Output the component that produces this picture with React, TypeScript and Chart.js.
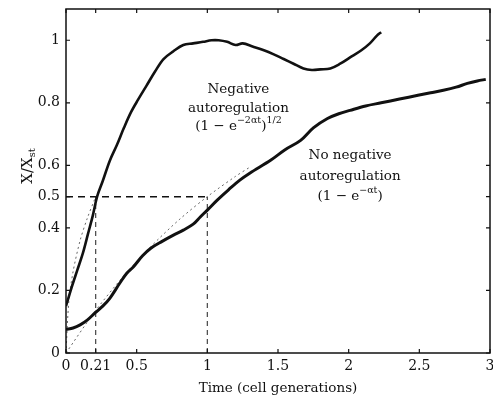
import React, { useEffect, useRef } from "react";
import { Chart, registerables } from "chart.js";

Chart.register(...registerables);

// ---- axis ticks ----
const xTickValues = [0, 0.21, 0.5, 1, 1.5, 2, 2.5, 3];
const xTickLabels = ["0", "0.21", "0.5", "1", "1.5", "2", "2.5", "3"];
const yTickValues = [0, 0.2, 0.4, 0.5, 0.6, 0.8, 1];
const yTickLabels = ["0", "0.2", "0.4", "0.5", "0.6", "0.8", "1"];

// ---- measured curve: negative autoregulation ----
const negTime = [0, 0.04, 0.08, 0.12, 0.155, 0.19, 0.22, 0.26, 0.31, 0.36, 0.41, 0.46, 0.51, 0.57, 0.63, 0.69, 0.76, 0.83, 0.9, 0.97, 1.03, 1.08, 1.14, 1.2, 1.25, 1.32, 1.4, 1.47, 1.54, 1.61, 1.68, 1.74, 1.8, 1.87, 1.94, 2.01, 2.09, 2.15, 2.2, 2.23];
const negValue = [0.15, 0.21, 0.265, 0.32, 0.38, 0.44, 0.5, 0.55, 0.615, 0.665, 0.72, 0.77, 0.81, 0.855, 0.9, 0.94, 0.965, 0.985, 0.99, 0.995, 1.0, 1.0, 0.995, 0.985, 0.99, 0.98, 0.968, 0.955, 0.94, 0.925, 0.91, 0.905, 0.907, 0.91, 0.925, 0.945, 0.968, 0.99, 1.015, 1.026];

// ---- measured curve: no negative autoregulation ----
const noNegTime = [0, 0.05, 0.1, 0.15, 0.205, 0.26, 0.31, 0.38, 0.43, 0.476, 0.54, 0.6, 0.68, 0.76, 0.83, 0.9, 0.95, 1.0, 1.07, 1.15, 1.23, 1.3, 1.45, 1.55, 1.66, 1.75, 1.85, 1.93, 2.01, 2.12, 2.23, 2.36, 2.49, 2.58, 2.67, 2.76, 2.84, 2.91, 2.97];
const noNegValue = [0.075, 0.08, 0.09, 0.105, 0.128, 0.15, 0.175, 0.223, 0.255, 0.275, 0.31, 0.335, 0.357, 0.377, 0.393, 0.412, 0.435, 0.457, 0.489, 0.522, 0.553, 0.575, 0.617, 0.65, 0.68, 0.72, 0.75, 0.765, 0.776, 0.79, 0.8, 0.812, 0.824, 0.832, 0.84, 0.85, 0.862, 0.87, 0.875];

// ---- theoretical (dotted) curves ----
const negTheoryTime = [0, 0.02, 0.05, 0.1, 0.15, 0.21];
const negTheoryValue = [0, 0.165, 0.26, 0.36, 0.43, 0.5];
const noNegTheoryTime = [0, 0.2, 0.4, 0.6, 0.8, 1.0, 1.2, 1.3];
const noNegTheoryValue = [0, 0.13, 0.242, 0.34, 0.426, 0.5, 0.565, 0.594];

// ---- response-time guides ----
const halfLevel = 0.5;
const halfTimes = [0.21, 1];

// ---- texts ----
const xTitle = "Time (cell generations)";
const yTitleMain = "X/X";
const yTitleSub = "st";
const negLabelLines = ["Negative", "autoregulation"];
const negFormula = [
  { t: "(1 \u2212 e", sup: false },
  { t: "\u22122\u03b1t", sup: true },
  { t: ")", sup: false },
  { t: "1/2", sup: true },
];
const noNegLabelLines = ["No negative", "autoregulation"];
const noNegFormula = [
  { t: "(1 \u2212 e", sup: false },
  { t: "\u2212\u03b1t", sup: true },
  { t: ")", sup: false },
];
const negLabelAt = { x: 1.22, y: 0.843 };
const noNegLabelAt = { x: 2.01, y: 0.63 };

const FONT = "'DejaVu Serif', serif";

const pts = (xs: number[], ys: number[]) => xs.map((x, i) => ({ x, y: ys[i] }));

const decorPlugin = {
  id: "decor",
  afterDatasetsDraw(chart: any) {
    const ctx = chart.ctx as CanvasRenderingContext2D;
    const { left, right, top, bottom } = chart.chartArea;
    const xs = chart.scales.x;
    const ys = chart.scales.y;
    ctx.save();
    // frame
    ctx.strokeStyle = "#111";
    ctx.lineWidth = 1.5;
    ctx.strokeRect(left, top, right - left, bottom - top);
    // inward ticks
    ctx.lineWidth = 1.2;
    ctx.beginPath();
    xTickValues.forEach((v) => {
      const px = xs.getPixelForValue(v);
      ctx.moveTo(px, bottom);
      ctx.lineTo(px, bottom - 4);
      ctx.moveTo(px, top);
      ctx.lineTo(px, top + 4);
    });
    yTickValues.forEach((v) => {
      const py = ys.getPixelForValue(v);
      ctx.moveTo(left, py);
      ctx.lineTo(left + 4, py);
      ctx.moveTo(right, py);
      ctx.lineTo(right - 4, py);
    });
    ctx.stroke();

    ctx.fillStyle = "#111";
    ctx.textBaseline = "middle";
    ctx.textAlign = "center";

    const drawLabel = (at: { x: number; y: number }, lines: string[], formula: { t: string; sup: boolean }[], gap: number) => {
      const cx = xs.getPixelForValue(at.x);
      const cy = ys.getPixelForValue(at.y);
      ctx.font = `13.5px ${FONT}`;
      ctx.textAlign = "center";
      lines.forEach((l, i) => ctx.fillText(l, cx, cy + i * gap));
      const fy = cy + lines.length * gap - 1;
      const widths = formula.map((s) => {
        ctx.font = s.sup ? `9.5px ${FONT}` : `13.5px ${FONT}`;
        return ctx.measureText(s.t).width;
      });
      const total = widths.reduce((a, b) => a + b, 0);
      let x = cx - total / 2;
      ctx.textAlign = "left";
      formula.forEach((s, i) => {
        ctx.font = s.sup ? `9.5px ${FONT}` : `13.5px ${FONT}`;
        ctx.fillText(s.t, x, s.sup ? fy - 6 : fy);
        x += widths[i];
      });
    };
    drawLabel(negLabelAt, negLabelLines, negFormula, 19);
    drawLabel(noNegLabelAt, noNegLabelLines, noNegFormula, 21);

    // x title
    ctx.textAlign = "center";
    ctx.font = `13.5px ${FONT}`;
    ctx.fillText(xTitle, (left + right) / 2, 388);

    // y title (rotated, with subscript)
    ctx.translate(32, 166);
    ctx.rotate(-Math.PI / 2);
    ctx.textBaseline = "alphabetic";
    ctx.font = `15px ${FONT}`;
    const wMain = ctx.measureText(yTitleMain).width;
    ctx.font = `10px ${FONT}`;
    const wSub = ctx.measureText(yTitleSub).width;
    const start = -(wMain + wSub) / 2;
    ctx.font = `15px ${FONT}`;
    ctx.textAlign = "left";
    ctx.fillText(yTitleMain, start, 0);
    ctx.font = `10px ${FONT}`;
    ctx.fillText(yTitleSub, start + wMain, 3);
    ctx.restore();
  },
};

export default function App() {
  const ref = useRef<HTMLCanvasElement | null>(null);
  useEffect(() => {
    document.body.style.margin = "0";
    if (!ref.current) return;
    const chart = new Chart(ref.current, {
      type: "line",
      data: {
        datasets: [
          {
            label: "Negative autoregulation",
            data: pts(negTime, negValue),
            borderColor: "#111",
            borderWidth: 2.6,
            pointRadius: 0,
            tension: 0.35,
            fill: false,
          },
          {
            label: "No negative autoregulation",
            data: pts(noNegTime, noNegValue),
            borderColor: "#111",
            borderWidth: 3,
            pointRadius: 0,
            tension: 0.35,
            fill: false,
          },
          {
            label: "Theory, negative autoregulation",
            data: pts(negTheoryTime, negTheoryValue),
            borderColor: "#666",
            borderWidth: 1,
            borderDash: [2, 3],
            pointRadius: 0,
            tension: 0.3,
          },
          {
            label: "Theory, no negative autoregulation",
            data: pts(noNegTheoryTime, noNegTheoryValue),
            borderColor: "#666",
            borderWidth: 1,
            borderDash: [2, 3],
            pointRadius: 0,
            tension: 0.3,
          },
          {
            label: "Half level",
            data: [
              { x: 0, y: halfLevel },
              { x: halfTimes[1], y: halfLevel },
            ],
            borderColor: "#111",
            borderWidth: 1.5,
            borderDash: [7, 5],
            pointRadius: 0,
            tension: 0,
          },
          ...halfTimes.map((t) => ({
            label: `t = ${t}`,
            data: [
              { x: t, y: 0 },
              { x: t, y: halfLevel },
            ],
            borderColor: "#444",
            borderWidth: 1.2,
            borderDash: [5, 4],
            pointRadius: 0,
            tension: 0,
          })),
        ],
      },
      options: {
        animation: false,
        responsive: false,
        maintainAspectRatio: false,
        layout: { padding: { top: 9, right: 3, left: 0, bottom: 0 } },
        plugins: {
          legend: { display: false },
          tooltip: { enabled: false },
          title: { display: false },
        },
        scales: {
          x: {
            type: "linear",
            min: 0,
            max: 3,
            grid: { display: false, drawTicks: false },
            border: { display: false },
            afterBuildTicks: (s: any) => {
              s.ticks = xTickValues.map((v) => ({ value: v }));
            },
            afterFit: (s: any) => {
              s.height = 49;
              s.paddingLeft = 0;
              s.paddingRight = 0;
            },
            ticks: {
              autoSkip: false,
              maxRotation: 0,
              padding: 5,
              color: "#111",
              font: { family: FONT, size: 14 },
              callback: (_v: any, i: number) => xTickLabels[i],
            },
          },
          y: {
            type: "linear",
            min: 0,
            max: 1.1,
            grid: { display: false, drawTicks: false },
            border: { display: false },
            afterBuildTicks: (s: any) => {
              s.ticks = yTickValues.map((v) => ({ value: v }));
            },
            afterFit: (s: any) => {
              s.width = 66;
              s.paddingTop = 0;
              s.paddingBottom = 0;
            },
            ticks: {
              autoSkip: false,
              padding: 6,
              color: "#111",
              font: { family: FONT, size: 14 },
              callback: (_v: any, i: number) => yTickLabels[i],
            },
          },
        },
      },
      plugins: [decorPlugin],
    });
    return () => chart.destroy();
  }, []);
  return (
    <div style={{ position: "fixed", left: 0, top: 0, width: 493, height: 402, background: "#fff" }}>
      <canvas ref={ref} width={493} height={402} style={{ width: 493, height: 402 }} />
    </div>
  );
}
